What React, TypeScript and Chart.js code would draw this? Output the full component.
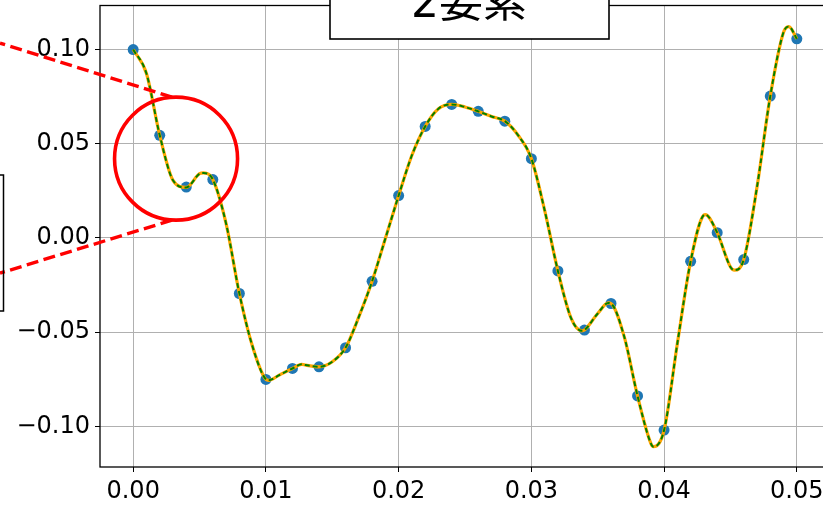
import React, { useEffect, useRef } from "react";
import { Chart, registerables } from "chart.js";

Chart.register(...registerables);

// sampled points (blue dots)
const sampleX = [
  0, 0.002, 0.004, 0.006, 0.008, 0.01, 0.012, 0.014, 0.016, 0.018, 0.02, 0.022, 0.024,
  0.026, 0.028, 0.03, 0.032, 0.034, 0.036, 0.038, 0.04, 0.042, 0.044, 0.046, 0.048, 0.05,
];
const sampleY = [
  0.1, 0.0545, 0.027, 0.031, -0.0295, -0.0751, -0.0693, -0.0684, -0.0583, -0.023, 0.0225,
  0.0592, 0.0709, 0.0672, 0.062, 0.0421, -0.0175, -0.0489, -0.0348, -0.0839, -0.102,
  -0.0124, 0.0028, -0.0115, 0.0753, 0.1057,
];

// reconstructed curve
const curveX = [
  0, 0.001, 0.002, 0.003, 0.004, 0.005, 0.0053, 0.006, 0.007, 0.008, 0.009, 0.01, 0.0102,
  0.011, 0.012, 0.0127, 0.013, 0.014, 0.015, 0.016, 0.017, 0.018, 0.019, 0.02, 0.021, 0.022,
  0.023, 0.024, 0.025, 0.026, 0.027, 0.028, 0.029, 0.03, 0.031, 0.032, 0.033, 0.0338, 0.034,
  0.035, 0.0358, 0.036, 0.037, 0.038, 0.039, 0.0392, 0.04, 0.041, 0.042, 0.043, 0.0431,
  0.044, 0.045, 0.0453, 0.046, 0.047, 0.048, 0.049, 0.0494, 0.05,
];
const curveY = [
  0.1, 0.0873, 0.0545, 0.0306, 0.0268, 0.0341, 0.0345, 0.031, 0.0076, -0.0295, -0.0578,
  -0.0751, -0.0756, -0.0728, -0.0693, -0.0671, -0.0675, -0.0684, -0.0657, -0.0583, -0.0419,
  -0.023, -0.0003, 0.0225, 0.0439, 0.0592, 0.0686, 0.0709, 0.0695, 0.0672, 0.0645, 0.062,
  0.0545, 0.0421, 0.0147, -0.0175, -0.0427, -0.0493, -0.0489, -0.0401, -0.0345, -0.0348,
  -0.0525, -0.0839, -0.109, -0.1108, -0.102, -0.056, -0.0124, 0.0122, 0.0124, 0.0028,
  -0.0154, -0.0171, -0.0115, 0.027, 0.0753, 0.1092, 0.1122, 0.1057,
];

const xTickValues = [0, 0.01, 0.02, 0.03, 0.04, 0.05];
const xTickLabels = ["0.00", "0.01", "0.02", "0.03", "0.04", "0.05"];
const yTickValues = [-0.1, -0.05, 0, 0.05, 0.1];
const yTickLabels = ["\u22120.10", "\u22120.05", "0.00", "0.05", "0.10"];

const titleText = "2要素";
// zoom-circle centre in data coordinates
const circleCenter = { x: 0.00323, y: 0.0421 };

const overlayPlugin = {
  id: "overlay",
  afterDraw(chart: any) {
    const { ctx, chartArea } = chart;
    const xs = chart.scales.x;
    const ys = chart.scales.y;
    ctx.save();
    // spines
    ctx.strokeStyle = "#000";
    ctx.lineWidth = 1.3;
    ctx.setLineDash([]);
    ctx.strokeRect(chartArea.left, chartArea.top, chartArea.right - chartArea.left, chartArea.bottom - chartArea.top);

    // circle
    const cx = xs.getPixelForValue(circleCenter.x);
    const cy = ys.getPixelForValue(circleCenter.y);
    const r = 61.5;
    ctx.strokeStyle = "#ff0000";
    ctx.lineWidth = 3.6;
    ctx.beginPath();
    ctx.arc(cx, cy, r, 0, Math.PI * 2);
    ctx.stroke();

    // dashed connectors
    ctx.lineWidth = 3.4;
    ctx.setLineDash([12, 5.5]);
    ctx.beginPath();
    ctx.moveTo(cx - 4, cy - r);
    ctx.lineTo(0, cy - r - 54);
    ctx.stroke();
    ctx.beginPath();
    ctx.moveTo(cx - 4, cy + r);
    ctx.lineTo(0, cy + r + 53);
    ctx.stroke();
    ctx.setLineDash([]);

    // inset box edge at left
    ctx.strokeStyle = "#000";
    ctx.lineWidth = 1.5;
    ctx.strokeRect(-200, 175, 203.5, 136);

    // title box
    ctx.fillStyle = "#fff";
    ctx.fillRect(330, -20, 279, 59);
    ctx.strokeStyle = "#000";
    ctx.lineWidth = 1.6;
    ctx.strokeRect(330, -20, 279, 59);
    ctx.fillStyle = "#000";
    ctx.font = '44px "DejaVu Sans", "Noto Sans CJK JP"';
    ctx.textAlign = "center";
    ctx.textBaseline = "alphabetic";
    ctx.fillText(titleText, 469, 17);
    ctx.restore();
  },
};

export default function App() {
  const ref = useRef<HTMLCanvasElement>(null);
  useEffect(() => {
    document.body.style.margin = "0";
    const canvas = ref.current!;
    const tickFont = { family: '"DejaVu Sans"', size: 24 };
    const chart = new Chart(canvas, {
      type: "scatter",
      data: {
        datasets: [
          {
            label: "samples",
            data: sampleX.map((x, i) => ({ x, y: sampleY[i] })),
            backgroundColor: "#1f77b4",
            borderWidth: 0,
            pointRadius: 5.5,
            showLine: false,
            order: 3,
          },
          {
            label: "curve",
            data: curveX.map((x, i) => ({ x, y: curveY[i] })),
            borderColor: "#ffa500",
            borderWidth: 3.2,
            pointRadius: 0,
            showLine: true,
            cubicInterpolationMode: "monotone",
            order: 2,
          } as any,
          {
            label: "curve2",
            data: curveX.map((x, i) => ({ x, y: curveY[i] })),
            borderColor: "#008000",
            borderWidth: 2,
            borderDash: [5, 3],
            pointRadius: 0,
            showLine: true,
            cubicInterpolationMode: "monotone",
            order: 1,
          } as any,
        ],
      },
      options: {
        animation: false,
        responsive: false,
        devicePixelRatio: 1,
        layout: { padding: { top: 5, left: 0, right: 10, bottom: 0 } },
        plugins: { legend: { display: false }, tooltip: { enabled: false } },
        scales: {
          x: {
            type: "linear",
            min: -0.0025,
            max: 0.0525,
            afterBuildTicks: (axis: any) => {
              axis.ticks = xTickValues.map((v) => ({ value: v }));
            },
            afterFit: (axis: any) => {
              axis.height = 38;
              axis.paddingLeft = 0;
              axis.paddingRight = 0;
              axis.paddingTop = 0;
              axis.paddingBottom = 0;
            },
            ticks: {
              font: tickFont,
              color: "#000",
              padding: 5,
              maxRotation: 0,
              autoSkip: false,
              callback: (v: any) => {
                const i = xTickValues.findIndex((t) => Math.abs(t - v) < 1e-9);
                return i >= 0 ? xTickLabels[i] : "";
              },
            },
            grid: { color: "#b0b0b0", lineWidth: 1, tickLength: 5, tickColor: "#000", drawTicks: true },
            border: { display: false },
          },
          y: {
            type: "linear",
            min: -0.1216,
            max: 0.1234,
            afterBuildTicks: (axis: any) => {
              axis.ticks = yTickValues.map((v) => ({ value: v }));
            },
            afterFit: (axis: any) => {
              axis.width = 100;
              axis.paddingLeft = 0;
              axis.paddingRight = 0;
              axis.paddingTop = 0;
              axis.paddingBottom = 0;
            },
            ticks: {
              font: tickFont,
              color: "#000",
              padding: 5,
              autoSkip: false,
              callback: (v: any) => {
                const i = yTickValues.findIndex((t) => Math.abs(t - v) < 1e-9);
                return i >= 0 ? yTickLabels[i] : "";
              },
            },
            grid: { color: "#b0b0b0", lineWidth: 1, tickLength: 5, tickColor: "#000", drawTicks: true },
            border: { display: false },
          },
        },
      },
      plugins: [overlayPlugin],
    });
    return () => chart.destroy();
  }, []);
  return (
    <div style={{ position: "absolute", left: 0, top: 0, width: 823, height: 505, overflow: "hidden", background: "#fff" }}>
      <canvas ref={ref} width={840} height={505} style={{ width: 840, height: 505, display: "block" }} />
    </div>
  );
}
